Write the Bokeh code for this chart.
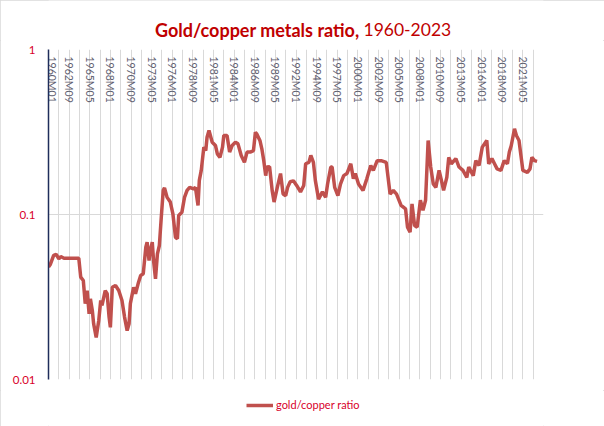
import math
from bokeh.plotting import figure
from bokeh.layouts import column
from bokeh.models import Range1d, FixedTicker, Legend, LegendItem
from bokeh.core.properties import value
from bokeh.embed import file_html
from bokeh.resources import INLINE

# months since 1960M01 and gold/copper ratio
month_index = [0, 3, 8, 12, 16, 19, 24, 47, 50, 54, 57, 60, 63, 65, 68, 70, 74, 78, 81, 83,
               88, 91, 94, 96, 99, 104, 109, 114, 118, 122, 125, 127, 132, 135, 139, 143, 147,
               151, 153, 156, 158, 161, 163, 166, 169, 172, 175, 178, 180, 184, 189, 193, 197,
               200, 202, 207, 211, 215, 219, 225, 228, 232, 234, 237, 241, 244, 246, 249, 254,
               259, 262, 266, 270, 272, 277, 281, 285, 290, 294, 299, 304, 308, 313, 318, 321,
               323, 328, 331, 334, 337, 339, 343, 347, 350, 355, 360, 364, 368, 371, 375, 380,
               385, 391, 396, 399, 404, 407, 411, 414, 419, 425, 430, 433, 438, 440, 444, 449,
               453, 458, 463, 469, 473, 476, 481, 488, 494, 500, 504, 510, 516, 524, 530, 535,
               540, 547, 554, 557, 561, 564, 568, 572, 577, 581, 585, 589, 593, 597, 601, 606,
               609, 613, 618, 621, 625, 632, 637, 643, 649, 652, 659, 663, 668, 673, 680, 683,
               688, 692, 696, 702, 707, 712, 715, 718, 723, 726, 730, 733, 736, 743, 747, 750,
               754, 758]
ratio = [0.048, 0.050, 0.0565, 0.0573, 0.0539, 0.0556, 0.0543, 0.0543, 0.0417, 0.0398, 0.0288,
         0.0346, 0.0250, 0.0308, 0.0262, 0.0218, 0.0180, 0.0228, 0.0301, 0.0281, 0.0346, 0.0331,
         0.0239, 0.0207, 0.0362, 0.0371, 0.0346, 0.0301, 0.0239, 0.0198, 0.0218, 0.0288, 0.0362,
         0.0331, 0.0380, 0.0427, 0.0437, 0.0634, 0.0679, 0.0526, 0.0605, 0.0679, 0.0526, 0.0408,
         0.0578, 0.0649, 0.0963, 0.140, 0.145, 0.127, 0.119, 0.101, 0.0728, 0.0713, 0.0986,
         0.1033, 0.127, 0.140, 0.146, 0.143, 0.146, 0.1135, 0.161, 0.185, 0.256, 0.244, 0.294,
         0.323, 0.274, 0.262, 0.233, 0.222, 0.256, 0.301, 0.301, 0.239, 0.262, 0.274, 0.268,
         0.228, 0.207, 0.239, 0.239, 0.244, 0.315, 0.308, 0.281, 0.250, 0.212, 0.172, 0.194,
         0.195, 0.140, 0.119, 0.146, 0.177, 0.133, 0.130, 0.146, 0.158, 0.160, 0.150, 0.137,
         0.150, 0.203, 0.207, 0.228, 0.207, 0.161, 0.124, 0.137, 0.127, 0.153, 0.194, 0.194,
         0.146, 0.130, 0.153, 0.172, 0.177, 0.203, 0.165, 0.177, 0.153, 0.140, 0.165, 0.198,
         0.185, 0.212, 0.212, 0.207, 0.133, 0.140, 0.133, 0.1135, 0.108, 0.0838, 0.0782, 0.116,
         0.0858, 0.0838, 0.122, 0.106, 0.122, 0.281, 0.194, 0.153, 0.146, 0.185, 0.165, 0.140,
         0.168, 0.222, 0.203, 0.218, 0.194, 0.185, 0.168, 0.194, 0.172, 0.212, 0.198, 0.256,
         0.281, 0.203, 0.218, 0.203, 0.189, 0.185, 0.212, 0.203, 0.239, 0.262, 0.331, 0.301,
         0.281, 0.228, 0.185, 0.180, 0.189, 0.222, 0.212, 0.210]

tick_labels = ["1960M01", "1962M09", "1965M05", "1968M01", "1970M09", "1973M05",
               "1976M01", "1978M09", "1981M05", "1984M01", "1986M09", "1989M05",
               "1992M01", "1994M09", "1997M05", "2000M01", "2002M09", "2005M05",
               "2008M01", "2010M09", "2013M05", "2016M01", "2018M09", "2021M05"]
title_bold = "Gold/copper metals ratio,"
title_rest = "1960-2023"
series_name = "gold/copper ratio"
label_step = 32
grid_step = 16
n_months = 768
y_ticks = [0.01, 0.1, 1]

RED_LINE = "#C0504D"
TXT_RED = "#C00000"
LBL_RED = "#D8002A"
GRID = "#D9D9D9"
W = 604
LEFT, RIGHT = 48, 61


def bare(height):
    # frame aligned with the main chart's frame; x data == page pixels
    f = figure(width=W, height=height, output_backend="svg", toolbar_location=None,
               x_range=Range1d(LEFT, W - RIGHT), y_range=Range1d(0, height),
               min_border_left=LEFT, min_border_right=RIGHT,
               min_border_top=0, min_border_bottom=0)
    f.axis.visible = False
    f.grid.visible = False
    f.outline_line_color = None
    return f


# ---- header with the two-weight title
header = bare(40)
header.text(x=[359], y=[11], text=[title_bold], text_align="right", text_baseline="alphabetic",
            text_font=value("Lato"), text_font_size="18px", text_font_style="bold",
            text_color=TXT_RED)
header.text(x=[363], y=[11], text=[title_rest], text_align="left", text_baseline="alphabetic",
            text_font=value("Lato"), text_font_size="17.5px", text_color=TXT_RED)

# ---- main chart
p = figure(width=W, height=350, output_backend="svg", toolbar_location=None,
           y_axis_type="log", x_range=Range1d(0, n_months), y_range=Range1d(0.01, 1),
           min_border_left=LEFT, min_border_right=RIGHT, min_border_top=9, min_border_bottom=11)
p.outline_line_color = None

p.xaxis.visible = False
p.xgrid.ticker = FixedTicker(ticks=list(range(0, n_months + 1, grid_step)))
p.xgrid.grid_line_color = GRID
p.ygrid.ticker = FixedTicker(ticks=y_ticks)
p.ygrid.grid_line_color = GRID

ya = p.yaxis[0]
ya.ticker = FixedTicker(ticks=y_ticks)
ya.major_label_overrides = {0.01: "0.01", 0.1: "0.1", 1: "1"}
ya.major_tick_line_color = None
ya.minor_tick_line_color = None
ya.major_tick_out = 0
ya.major_tick_in = 0
ya.axis_line_color = "#1F2D5A"
ya.axis_line_width = 1.5
ya.major_label_standoff = 13
ya.major_label_text_color = LBL_RED
ya.major_label_text_font = "Lato"
ya.major_label_text_font_size = "11.5px"

p.line(month_index, ratio, line_width=3.5, color=RED_LINE)

pos = [i * label_step for i in range(len(tick_labels))]
p.text(x=pos, y=[1] * len(pos), text=tick_labels, angle=-math.pi / 2,
       text_align="left", text_baseline="middle", y_offset=7,
       x_offset=[3] + [0] * (len(pos) - 1),
       text_font=value("Lato"), text_font_size="10.5px", text_color="#5F6070")

# ---- footer with the legend (single-point proxy line draws nothing itself)
footer = bare(36)
swatch = footer.line(x=month_index[:1], y=ratio[:1], line_width=3.5, color=RED_LINE)
legend = Legend(items=[LegendItem(label=series_name, renderers=[swatch])],
                location=(198, 15), orientation="horizontal",
                border_line_color=None, background_fill_alpha=0, padding=0, margin=0,
                glyph_width=27, glyph_height=12, label_standoff=3, label_text_font="Lato",
                label_text_font_size="11px", label_text_color=LBL_RED,
                label_height=12)
footer.add_layout(legend, "center")

layout = column(header, p, footer, spacing=0)
layout.styles = {"outline": "1px solid #D9D9D9", "outline-offset": "-1px"}
open("out.html", "w").write(file_html(layout, INLINE))
